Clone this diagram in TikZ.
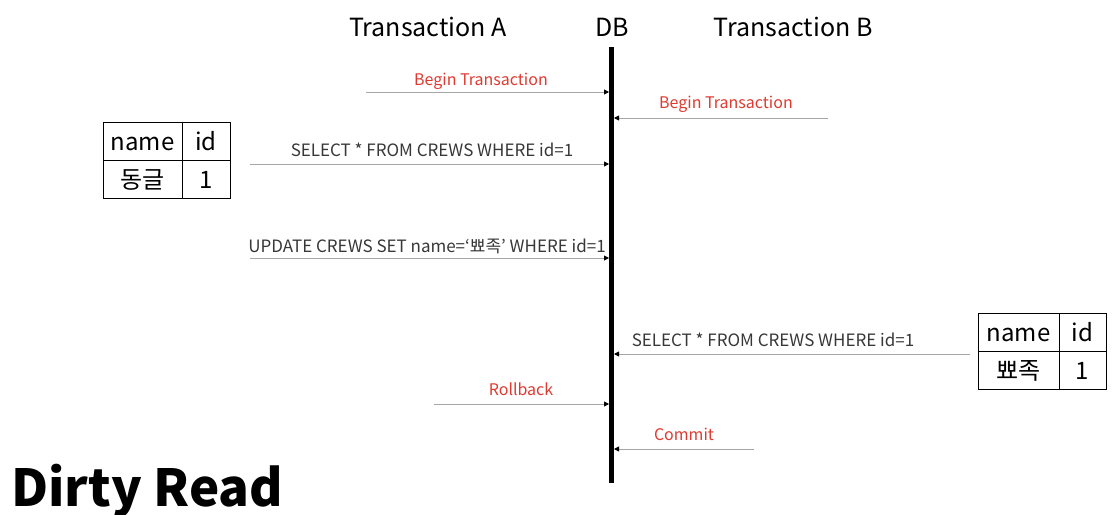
\documentclass[tikz,border=0pt]{standalone}
\usepackage{fontspec}
\setmainfont{Noto Sans CJK KR}
\usetikzlibrary{arrows.meta}
\definecolor{msgred}{RGB}{222,58,48}
\definecolor{msggray}{RGB}{55,55,55}
\tikzset{
  msg/.style={draw=gray!70,line width=0.9pt,-{Triangle[black,length=5pt,width=5pt]}},
  redlabel/.style={font=\fontsize{16}{18}\selectfont,inner sep=0pt,text=msgred},
  graylabel/.style={font=\fontsize{17}{19}\selectfont,inner sep=0pt,text=msggray},
  cell/.style={draw,line width=1pt,minimum height=38,inner sep=0pt,text height=18pt,text depth=0pt,font=\fontsize{24}{26}\selectfont}
}
\begin{document}
\begin{tikzpicture}[x=1pt,y=-1pt]
\useasboundingbox (0,0) rectangle (1115,514);
% heads
\node[font=\fontsize{25}{28}\selectfont] (ta) at (428,27) {Transaction A};
\node[font=\fontsize{25}{28}\selectfont] (db) at (612,27) {DB};
\node[font=\fontsize{25}{28}\selectfont] (tb) at (793,27) {Transaction B};
% lifeline
\coordinate (dbtop) at (611,47);
\coordinate (dbbot) at (611,483);
\draw[line width=5pt] (dbtop) -- (dbbot);
% free ends
\coordinate (a1) at (366,92);  \coordinate (d1) at (609,92);
\coordinate (b2) at (828,118); \coordinate (d2) at (614,118);
\coordinate (a3) at (250,164); \coordinate (d3) at (609,164);
\coordinate (a4) at (250,258); \coordinate (d4) at (609,258);
\coordinate (b5) at (970,354); \coordinate (d5) at (614,354);
\coordinate (a6) at (434,404); \coordinate (d6) at (609,404);
\coordinate (b7) at (754,449); \coordinate (d7) at (614,449);
% messages
\draw[msg] (a1) -- (d1);
\node[redlabel] (m1) at (481,81) {Begin Transaction};
\draw[msg] (b2) -- (d2);
\node[redlabel] (m2) at (726,104) {Begin Transaction};
\draw[msg] (a3) -- (d3);
\node[graylabel] (m3) at (432,150) {SELECT * FROM CREWS WHERE id=1};
\draw[msg] (a4) -- (d4);
\node[graylabel] (m4) at (427,246) {UPDATE CREWS SET name=‘뾰족’ WHERE id=1};
\draw[msg] (b5) -- (d5);
\node[graylabel] (m5) at (773,340) {SELECT * FROM CREWS WHERE id=1};
\draw[msg] (a6) -- (d6);
\node[redlabel] (m6) at (521,389) {Rollback};
\draw[msg] (b7) -- (d7);
\node[redlabel] (m7) at (684,434) {Commit};
% table of A
\node[cell,minimum width=79] (an) at (142.5,141) {name};
\node[cell,minimum width=48] (ai) at (206,141) {id};
\node[cell,minimum width=79] (av) at (142.5,179) {동글};
\node[cell,minimum width=48] (aw) at (206,179) {1};
% table of B
\node[cell,minimum width=81] (bn) at (1018.5,332) {name};
\node[cell,minimum width=47] (bi) at (1082.5,332) {id};
\node[cell,minimum width=81] (bv) at (1018.5,370) {뾰족};
\node[cell,minimum width=47] (bw) at (1082.5,370) {1};
% title
\node[anchor=base west,inner sep=0pt,font=\fontsize{51}{56}\selectfont\bfseries] (title) at (11,506) {Dirty Read};
\end{tikzpicture}
\end{document}
